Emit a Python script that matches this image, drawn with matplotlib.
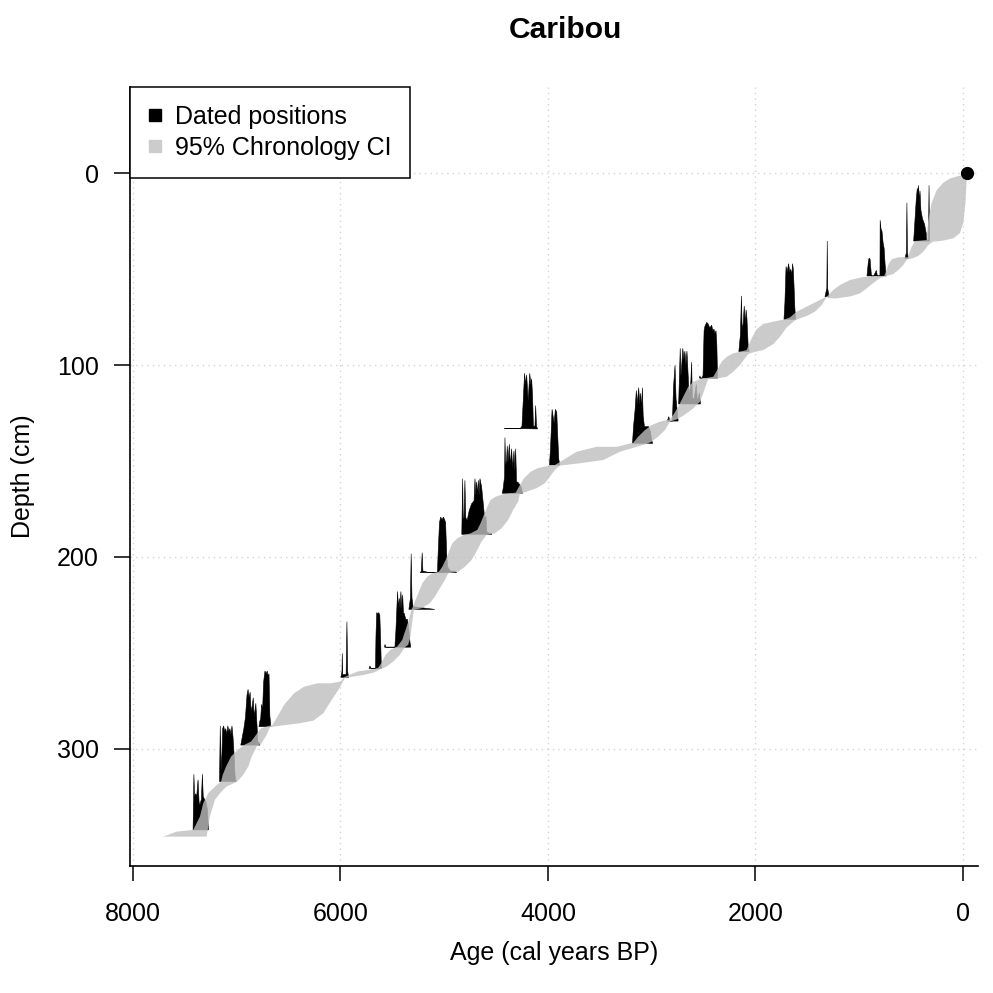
import numpy as np
import matplotlib
matplotlib.use("Agg")
import matplotlib.pyplot as plt
from matplotlib.lines import Line2D

plt.rcParams['font.family'] = ['Liberation Sans', 'DejaVu Sans']

# depth of each dated layer (cm)
date_depths = [35.4, 44.5, 53.6, 64.4, 76.2, 93.0, 106.8, 120.3, 129.2, 133.3,
               140.8, 152.1, 166.8, 188.2, 208.2, 227.3, 247.0, 258.0, 262.7,
               288.4, 298.0, 317.0, 342.2]

# calibrated age density of each date: ages (cal BP) and relative density
date_ages = [
    [475, 465, 450, 440, 432, 428, 420, 414, 405, 390, 370, 355, 345, 332, 327, 322],
    [560, 545, 540, 535, 525],
    [925, 912, 905, 895, 882, 860, 835, 825, 800, 798, 790, 780, 770, 760, 750, 740],
    [1330, 1312, 1308, 1304, 1290],
    [1725, 1716, 1705, 1695, 1680, 1670, 1660, 1650, 1642, 1635, 1628, 1620, 1612],
    [2160, 2145, 2135, 2128, 2118, 2108, 2098, 2090, 2082, 2070, 2060],
    [2540, 2535, 2530, 2515, 2505, 2495, 2487, 2470, 2455, 2440, 2422, 2410, 2400, 2390, 2380, 2372, 2365],
    [2740, 2725, 2718, 2710, 2700, 2690, 2680, 2670, 2660, 2648, 2640, 2625, 2615, 2608, 2590, 2570, 2560, 2540, 2530],
    [2850, 2835, 2825, 2800, 2790, 2775, 2765, 2755, 2745],
    [4420, 4265, 4250, 4238, 4225, 4215, 4205, 4190, 4175, 4165, 4157, 4148, 4140, 4125, 4118, 4110, 4100],
    [3185, 3175, 3160, 3148, 3140, 3125, 3115, 3106, 3098, 3090, 3082, 3070, 3050, 3030, 3010, 3000, 2990],
    [3985, 3975, 3960, 3948, 3940, 3928, 3915, 3905, 3895, 3885],
    [4440, 4430, 4418, 4414, 4408, 4398, 4392, 4385, 4372, 4362, 4350, 4340, 4327, 4318, 4311, 4302, 4290, 4270, 4255, 4245],
    [4830, 4822, 4815, 4808, 4800, 4792, 4778, 4758, 4735, 4712, 4703, 4695, 4687, 4679, 4671, 4663, 4655, 4639, 4623, 4610, 4600, 4597, 4590, 4570, 4545, 4540],
    [5230, 5220, 5212, 5205, 5180, 5150, 5065, 5057, 5045, 5034, 5020, 5008, 4995, 4986, 4975, 4965, 4940, 4900, 4880],
    [5340, 5325, 5318, 5310, 5300, 5180, 5090],
    [5575, 5570, 5563, 5475, 5465, 5449, 5441, 5433, 5425, 5417, 5408, 5400, 5392, 5385, 5370, 5355, 5345, 5330, 5322],
    [5725, 5715, 5705, 5662, 5657, 5650, 5640, 5630, 5620, 5612, 5605],
    [5995, 5985, 5982, 5978, 5945, 5937, 5930, 5920],
    [6785, 6776, 6768, 6760, 6750, 6740, 6727, 6715, 6705, 6695, 6688, 6680, 6670],
    [6960, 6950, 6930, 6915, 6900, 6890, 6880, 6870, 6860, 6850, 6840, 6830, 6815, 6805, 6795, 6785, 6775],
    [7165, 7158, 7150, 7142, 7135, 7125, 7115, 7105, 7095, 7085, 7075, 7065, 7055, 7045, 7035, 7025, 7015, 7005],
    [7420, 7412, 7405, 7395, 7385, 7372, 7362, 7354, 7340, 7330, 7322, 7310, 7295, 7280, 7272],
]
date_dens = [
    [0, 0.3, 0.75, 0.95, 0.85, 1.0, 0.7, 0.9, 0.55, 0.4, 0.3, 0.15, 0, 0, 1.0, 0],
    [0, 0.1, 1.0, 0.1, 0],
    [0, 0.25, 0.32, 0.3, 0, 0, 0.1, 0, 0, 1.0, 0.85, 0.8, 0.6, 0.5, 0.2, 0],
    [0, 0.15, 1.0, 0.15, 0],
    [0, 0.3, 0.95, 0.85, 1.0, 0.85, 0.9, 0.8, 1.0, 0.9, 0.6, 0.2, 0],
    [0, 0.3, 1.0, 0.4, 0.5, 0.82, 0.5, 0.75, 0.6, 0.1, 0],
    [0, 0.04, 0, 0, 0.05, 0.85, 0.93, 1.0, 0.97, 0.9, 0.95, 0.85, 0.88, 0.8, 0.85, 0.6, 0],
    [0, 1.0, 0.5, 0.7, 1.0, 0.8, 0.95, 0.7, 0.95, 0.5, 0.2, 0.3, 0.75, 0.1, 0.1, 0.35, 0.05, 0.2, 0],
    [0, 0.08, 0, 0, 0.6, 1.0, 0.4, 0.2, 0],
    [0.01, 0.01, 0.05, 0.5, 1.0, 0.8, 0.97, 0.5, 1.0, 0.8, 0.9, 0.6, 0.05, 0.05, 0.42, 0.05, 0],
    [0, 0.3, 0.6, 0.95, 0.7, 1.0, 0.7, 0.9, 0.6, 1.0, 0.5, 0.3, 0.3, 0.3, 0.2, 0.05, 0],
    [0, 0.3, 1.0, 0.85, 0.75, 1.0, 0.95, 0.5, 0.1, 0],
    [0, 0.1, 0.3, 1.0, 0.5, 0.6, 0.85, 0.55, 0.88, 0.5, 0.8, 0.45, 0.76, 0.4, 0.8, 0.2, 0.2, 0.15, 0.1, 0],
    [0, 1.0, 0.2, 0.3, 0.97, 0.3, 0.25, 0.43, 0.55, 0.6, 1.0, 0.7, 0.94, 0.7, 0.97, 0.7, 1.0, 0.85, 0.55, 0.3, 0.3, 0.32, 0.05, 0.02, 0.02, 0],
    [0, 0.03, 0.36, 0.03, 0.02, 0, 0, 0.4, 0.9, 1.0, 0.95, 1.0, 0.95, 0.9, 0.3, 0.1, 0.03, 0.03, 0],
    [0, 0.2, 1.0, 0.2, 0.05, 0.02, 0],
    [0, 0.05, 0, 0, 0.3, 1.0, 0.7, 0.88, 0.7, 1.0, 0.7, 0.94, 0.6, 0.61, 0.5, 0.5, 0.4, 0.1, 0],
    [0, 0.04, 0, 0, 0.6, 1.0, 0.98, 1.0, 0.95, 0.5, 0],
    [0, 0.1, 0.43, 0.05, 0.05, 1.0, 0.1, 0],
    [0, 0.1, 0.15, 0.4, 0.3, 0.8, 1.0, 0.95, 1.0, 0.9, 0.95, 0.2, 0],
    [0, 0.1, 0.3, 0.5, 0.9, 1.0, 0.85, 0.95, 0.6, 0.7, 0.85, 0.5, 0.75, 0.4, 0.05, 0.05, 0],
    [0, 1.0, 0.2, 0.5, 0.95, 1.0, 0.9, 0.95, 0.85, 1.0, 0.9, 0.95, 0.85, 1.0, 0.8, 0.5, 0.1, 0],
    [0, 1.0, 0.6, 0.65, 0.6, 0.9, 0.5, 0.45, 0.55, 1.0, 0.6, 0.55, 0.5, 0.35, 0],
]
date_height = 29  # cm drawn for the peak of each date

# 95% chronology CI band: old (upper) edge and young (lower) edge
ci_old_age = [-36, 48, 125, 193, 253, 302, 334, 350, 350, 463, 494, 518, 533, 559, 623, 687, 720, 742, 759,
              867, 964, 1089, 1185, 1250, 1301, 1314, 1378, 1507, 1603, 1667, 1716,
              1828, 1925, 1989, 2037, 2085, 2149, 2214, 2277, 2326, 2368, 2406, 2487,
              2535, 2599, 2647, 2679, 2711, 2744, 2792, 2824, 2920, 3000, 3065, 3129, 3177,
              3338, 3531, 3724, 3853, 3933, 4038, 4102, 4166, 4231, 4279, 4311,
              4424, 4504, 4553, 4584, 4617, 4649, 4681, 4745, 4810, 4873, 4922, 4954, 4986, 5018, 5051,
              5115, 5163, 5211, 5244, 5276, 5308, 5317, 5341, 5372, 5404, 5452,
              5517, 5565, 5607, 5640, 5739, 5836, 5917, 5965,
              5997, 6093, 6221, 6350, 6447, 6543, 6607, 6655, 6765, 6813, 6862, 6926,
              6990, 7054, 7102, 7134, 7150, 7192, 7274, 7322, 7354, 7418, 7578, 7708]
ci_old_depth = [0.5, 1.6, 2.8, 5.2, 8.9, 15.6, 24.5, 33.2, 34.9, 35.4, 38.4, 41.8, 43.9, 43.8, 43.9, 44.9, 47.9, 51.4, 53.6,
                53.8, 54.2, 55.7, 58.3, 60.9, 63.8, 64.4, 66.1, 69.6, 72.2, 75.2, 76.2,
                77.4, 78.6, 81.4, 86.1, 92.2, 93.1, 93.9, 95.7, 98.3, 102.6, 106.1, 106.9,
                107.4, 108.7, 111.3, 114.7, 118.2, 121.7, 126.0, 128.3, 129.5, 131.3, 133.9, 137.3, 140.5,
                142.6, 142.6, 145.2, 149.5, 152.1, 153.0, 153.8, 155.6, 159.0, 163.4, 166.5,
                167.2, 168.6, 170.3, 173.8, 178.1, 182.4, 185.9, 187.7, 188.5, 190.3, 192.9, 197.2, 201.6, 205.1, 207.7,
                208.5, 210.3, 213.7, 218.1, 222.4, 226.7, 227.6, 232.8, 238.0, 243.2, 246.7,
                248.4, 251.0, 255.4, 258.0, 258.9, 259.7, 261.5, 262.7,
                264.9, 265.8, 265.8, 267.6, 271.0, 277.1, 283.2, 287.5, 289.2, 292.7, 296.2, 297.9,
                300.5, 304.0, 309.2, 313.5, 317.0, 318.8, 323.1, 328.3, 335.3, 342.2, 343.1, 345.7]
ci_young_age = [-39, -36, -24, -3, 29, 93, 193, 289, 334, 383, 431, 485, 537, 575, 623, 672, 735,
                800, 865, 935, 993, 1089, 1234, 1301, 1314, 1362, 1426, 1507, 1587, 1619,
                1699, 1764, 1828, 1925, 2021, 2069, 2101, 2149, 2214, 2277, 2358, 2438,
                2455, 2470, 2503, 2535, 2599, 2663, 2711, 2759, 2824, 2872, 2937, 3000, 3048,
                3145, 3306, 3467, 3692, 3885, 3933, 3981, 4030, 4110, 4206, 4271,
                4287, 4335, 4383, 4447, 4511, 4591, 4640, 4688, 4736, 4800, 4865, 4961,
                4993, 5041, 5090, 5138, 5218, 5292, 5314, 5324, 5347, 5378,
                5427, 5491, 5555, 5612, 5683, 5780, 5876, 5956,
                6020, 6084, 6165, 6261, 6390, 6518, 6647, 6679, 6711, 6759, 6807,
                6855, 6888, 6936, 6985, 7016, 7097, 7161, 7210, 7258, 7289]
ci_young_depth = [0.5, 3.6, 15.6, 26.0, 31.3, 34.0, 35.2, 35.8, 37.5, 41.0, 43.2, 44.4, 44.9, 47.9, 50.5, 52.6, 53.6,
                  54.7, 57.3, 60.4, 62.7, 64.3, 65.4, 65.1, 64.7, 68.8, 72.2, 74.5, 76.0, 76.8,
                  80.4, 85.3, 89.1, 92.2, 93.4, 94.3, 96.5, 100.0, 103.5, 106.1, 106.9, 107.1,
                  107.4, 109.5, 114.7, 119.1, 122.6, 125.2, 126.9, 128.3, 129.5, 133.9, 137.3, 139.9, 141.1,
                  142.6, 145.2, 149.5, 151.2, 152.4, 154.7, 158.2, 161.6, 164.2, 166.0, 167.2,
                  171.2, 175.5, 180.7, 185.1, 187.7, 188.5, 192.0, 197.2, 201.6, 205.1, 207.7, 208.5,
                  212.0, 216.3, 220.7, 224.1, 226.7, 227.6, 236.3, 241.5, 245.8, 247.0,
                  251.0, 254.5, 257.1, 258.5, 260.3, 261.5, 262.3, 263.0,
                  269.3, 274.5, 281.4, 285.3, 286.6, 287.5, 288.4, 288.7, 292.7, 297.0, 298.8,
                  304.0, 309.2, 313.5, 316.5, 317.6, 319.6, 323.1, 326.6, 335.3, 345.7]

top_age, top_depth = -38, 0  # modern surface point

fig = plt.figure(figsize=(9.93, 9.93), dpi=100)
ax = fig.add_axes([0.1309, 0.1279, 0.8540, 0.7848])

# dated positions (densities sitting on their depth)
for d, ages, dens in zip(date_depths, date_ages, date_dens):
    ages = np.asarray(ages, float)
    dens = np.asarray(dens, float)
    ax.fill(ages, d - dens * date_height, color='black', lw=0.4, ec='black', zorder=2)

# chronology band drawn on top, slightly see-through
band_x = np.concatenate([ci_old_age, ci_young_age[::-1]])
band_y = np.concatenate([ci_old_depth, ci_young_depth[::-1]])
ax.fill(band_x, band_y, color='#bfbfbf', alpha=0.8, lw=0, zorder=3)

ax.plot(top_age, top_depth, 'o', color='black', ms=8.5, zorder=4)

ax.set_xlim(8028, -145)
ax.set_ylim(361, -45)
ax.set_xticks([8000, 6000, 4000, 2000, 0])
ax.set_yticks([0, 100, 200, 300])
ax.grid(True, color='#d3d3d3', linestyle=(0, (1, 3)), lw=1)
ax.set_axisbelow(True)

for s in ['top', 'right']:
    ax.spines[s].set_visible(False)
for s in ['left', 'bottom']:
    ax.spines[s].set_linewidth(1.2)
ax.tick_params(axis='x', length=11, width=1.1, pad=15, labelsize=18)
ax.tick_params(axis='y', length=11.5, width=1.1, pad=11, labelsize=18)

ax.set_xlabel('Age (cal years BP)', fontsize=18, labelpad=11)
ax.set_ylabel('Depth (cm)', fontsize=18, labelpad=16)
fig.text(0.569, 0.970, 'Caribou', fontsize=21.6, fontweight='bold', ha='center', va='center')

handles = [Line2D([], [], marker='s', color='black', ls='', ms=9),
           Line2D([], [], marker='s', color='#cccccc', ls='', ms=9)]
leg = ax.legend(handles, ['Dated positions', '95% Chronology CI'], loc='upper left',
                borderaxespad=0, fancybox=False, edgecolor='black', framealpha=1,
                fontsize=18, handlelength=0.55, handletextpad=0.55, borderpad=0.72,
                labelspacing=0.3)
leg.get_frame().set_linewidth(1.1)

fig.savefig('out.png', dpi=100)
